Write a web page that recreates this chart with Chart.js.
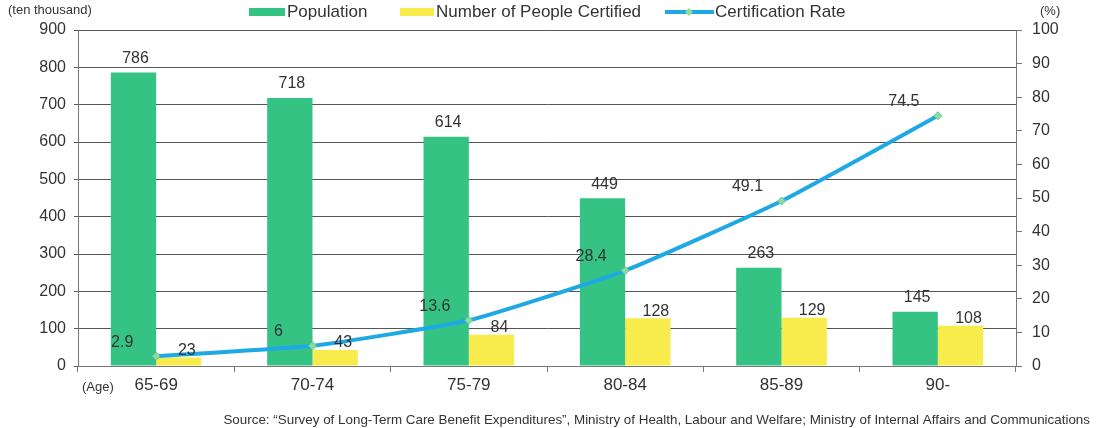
<!DOCTYPE html>
<html>
<head>
<meta charset="utf-8">
<script src="https://cdn.jsdelivr.net/npm/chart.js@4"></script>
<style>
  html, body { margin: 0; padding: 0; background: #fff; }
  #wrap { width: 1097px; height: 428px; }
</style>
</head>
<body>
<div id="wrap"><canvas id="chartAge"></canvas></div>
<script>
// données
const categories = ['65-69', '70-74', '75-79', '80-84', '85-89', '90-'];
const population = [786, 718, 614, 449, 263, 145];
const certified = [23, 43, 84, 128, 129, 108];
const rate = [2.9, 6, 13.6, 28.4, 49.1, 74.5];

const leftTicks = [0, 100, 200, 300, 400, 500, 600, 700, 800, 900];
const rightTicks = [0, 10, 20, 30, 40, 50, 60, 70, 80, 90, 100];

const sourceText = 'Source: \u201cSurvey of Long-Term Care Benefit Expenditures\u201d, Ministry of Health, Labour and Welfare; Ministry of Internal Affairs and Communications';

const GREEN = '#35c384';
const YELLOW = '#f7ec4c';
const BLUE = '#1ea9e4';
const FONT = '"Liberation Sans", Arial, sans-serif';
const TXT = '#333';

// légende + titres + étiquettes
const extras = {
    id: 'extras',
    afterDraw(chart) {
        const ctx = chart.ctx;
        ctx.save();
        ctx.fillStyle = TXT;
        ctx.textBaseline = 'middle';

        // légende
        ctx.font = '17px ' + FONT;
        ctx.textAlign = 'left';
        ctx.fillStyle = GREEN;
        ctx.fillRect(249, 8, 36, 8);
        ctx.fillStyle = TXT;
        ctx.fillText('Population', 287, 12);
        ctx.fillStyle = YELLOW;
        ctx.fillRect(400, 8, 34, 8);
        ctx.fillStyle = TXT;
        ctx.fillText('Number of People Certified', 436, 12);
        ctx.strokeStyle = BLUE;
        ctx.lineWidth = 4;
        ctx.beginPath();
        ctx.moveTo(665, 12);
        ctx.lineTo(714, 12);
        ctx.stroke();
        ctx.fillStyle = '#8fdc9a';
        ctx.beginPath();
        ctx.moveTo(689, 8); ctx.lineTo(693, 12); ctx.lineTo(689, 16); ctx.lineTo(685, 12);
        ctx.closePath();
        ctx.fill();
        ctx.fillStyle = TXT;
        ctx.fillText('Certification Rate', 715, 12);

        // titres d'axes
        ctx.font = '13px ' + FONT;
        ctx.fillText('(ten thousand)', 8, 10);
        ctx.fillText('(%)', 1040, 11);
        ctx.fillText('(Age)', 82, 387);
        ctx.textAlign = 'right';
        ctx.font = '13.4px ' + FONT;
        ctx.fillText(sourceText, 1090, 420);

        // étiquettes des barres
        ctx.font = '16px ' + FONT;
        ctx.textAlign = 'center';
        chart.data.datasets.forEach((ds, i) => {
            const meta = chart.getDatasetMeta(i);
            meta.data.forEach((el, j) => {
                const v = ds.data[j];
                if (ds.type === 'line') {
                    ctx.fillText(String(v), el.x - 34, el.y - 14);
                } else if (i === 1) {
                    ctx.fillText(String(v), el.x + 2, el.y - 14);
                } else {
                    ctx.fillText(String(v), el.x + 8, el.y - 7);
                }
            });
        });
        ctx.restore();
    }
};

const datas = {
    labels: categories,
    datasets: [
        {
            type: 'line',
            label: 'Certification Rate',
            data: rate,
            yAxisID: 'y1',
            borderColor: BLUE,
            borderWidth: 4,
            tension: 0.15,
            pointStyle: 'rectRot',
            pointRadius: 4,
            pointBackgroundColor: '#8fdc9a',
            pointBorderColor: '#5cc8b0',
            pointBorderWidth: 1,
            order: 0
        },
        {
            type: 'bar',
            label: 'Population',
            data: population,
            yAxisID: 'y',
            backgroundColor: GREEN,
            categoryPercentage: 0.58,
            barPercentage: 1.0,
            order: 1
        },
        {
            type: 'bar',
            label: 'Number of People Certified',
            data: certified,
            yAxisID: 'y',
            backgroundColor: YELLOW,
            categoryPercentage: 0.58,
            barPercentage: 1.0,
            order: 1
        }
    ]
};

const config = {
    data: datas,
    options: {
        responsive: true,
        maintainAspectRatio: false,
        animation: false,
        layout: { padding: { top: 30, left: 0, right: 0, bottom: 0 } },
        plugins: {
            legend: { display: false },
            tooltip: { enabled: false }
        },
        scales: {
            x: {
                offset: true,
                grid: { offset: true, drawOnChartArea: false, tickLength: 6, color: '#777' },
                border: { color: '#777' },
                ticks: { font: { size: 17, family: FONT }, color: TXT, padding: 3 },
                afterFit(s) { s.height = 62; }
            },
            y: {
                position: 'left',
                min: 0,
                max: 900,
                afterBuildTicks(s) { s.ticks = leftTicks.map(v => ({ value: v })); },
                ticks: { font: { size: 16, family: FONT }, color: TXT, padding: 8 },
                grid: { color: '#555', tickLength: 4 },
                border: { color: '#777' },
                afterFit(s) { s.width = 78; }
            },
            y1: {
                position: 'right',
                min: 0,
                max: 100,
                afterBuildTicks(s) { s.ticks = rightTicks.map(v => ({ value: v })); },
                ticks: { font: { size: 16, family: FONT }, color: TXT, padding: 10 },
                grid: { drawOnChartArea: false, tickLength: 6, color: '#777' },
                border: { color: '#777' },
                afterFit(s) { s.width = 81; }
            }
        }
    },
    plugins: [extras]
};

const myChart = new Chart(document.getElementById('chartAge'), config);
</script>
</body>
</html>
